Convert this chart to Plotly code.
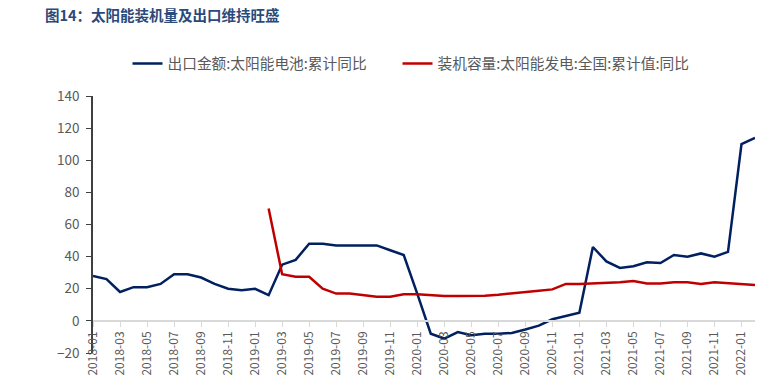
import plotly.graph_objects as go

months = [f"{y}-{m:02d}" for y in range(2018, 2023) for m in range(1, 13)][:50]

export_yoy = [28, 26, 18, 21, 21, 23, 29, 29, 27, 23, 20, 19,
              20, 16, 35, 38, 48, 48, 47, 47, 47, 47, 44, 41,
              17, -8, -11, -7, -9, -8, -8, -7.5, -5.4, -3, 1, 3,
              5, 46, 37, 33, 34, 36.5, 36, 41, 40, 42, 40, 43,
              110, 114]

install_yoy = [None] * 13 + [70, 29, 27.5, 27.5, 20, 17, 17, 16, 15, 15, 16.5,
               16.5, 16, 15.5, 15.5, 15.5, 15.7, 16.3, 17, 17.8, 18.8, 19.6, 23,
               23, 23.3, 24, 24, 24.8, 23.3, 23.3, 24, 24, 23, 24, 23.3,
               22.8, 22.3]

name_export = "出口金额:太阳能电池:累计同比"
name_install = "装机容量:太阳能发电:全国:累计值:同比"
title_text = "图14：太阳能装机量及出口维持旺盛"

FONT = "Noto Sans CJK SC"
GREY = "#595959"

W, H = 779, 392
L, R_EDGE, T, B_EDGE = 93, 755, 96, 353.5
plot_w = R_EDGE - L
plot_h = B_EDGE - T

fig = go.Figure()
fig.add_trace(go.Scatter(x=months, y=export_yoy, mode="lines", name=name_export,
                         line=dict(color="#002060", width=2.5), legend="legend"))
fig.add_trace(go.Scatter(x=months, y=install_yoy, mode="lines", name=name_install,
                         line=dict(color="#C00000", width=2.5), legend="legend2"))

leg_common = dict(orientation="h", xanchor="left", yanchor="middle",
                  y=(B_EDGE - 64) / plot_h,
                  font=dict(family=FONT, size=14.7, color=GREY),
                  bgcolor="rgba(0,0,0,0)")

fig.update_layout(
    width=W, height=H,
    margin=dict(l=L, r=W - R_EDGE, t=T, b=H - B_EDGE),
    paper_bgcolor="white", plot_bgcolor="white",
    font=dict(family=FONT, color=GREY, size=13),
    title=dict(text=f"<b>{title_text}</b>", x=45 / W, xanchor="left",
               y=1 - 15.5 / H, yanchor="middle", xref="container", yref="container",
               font=dict(family=FONT, size=14.5, color="#2B4A7C")),
    showlegend=True,
    legend=dict(x=(127.5 - L) / plot_w, **leg_common),
    legend2=dict(x=(397.5 - L) / plot_w, **leg_common),
    xaxis=dict(type="category", categoryorder="array", categoryarray=months,
               range=[0, len(months) - 1], anchor="free", position=0.125,
               showline=True, linecolor="#D9D9D9", linewidth=1.5,
               ticks="outside", tickcolor="#D9D9D9", ticklen=5,
               tickmode="array", tickvals=months[::2], ticktext=months[::2],
               tickangle=-90, tickfont=dict(size=12, color=GREY, family=FONT),
               showgrid=False, zeroline=False, automargin=False),
    yaxis=dict(range=[-20, 140], dtick=20, tick0=0, showline=True,
               linecolor="#404040", linewidth=1.5, ticks="outside",
               tickcolor="#404040", ticklen=5, showgrid=False, zeroline=False,
               ticklabelstandoff=4,
               tickfont=dict(size=13.5, color=GREY, family=FONT), automargin=False),
)

fig.write_html("out.html",
               config={"displayModeBar": False},
               post_script="document.body.style.margin='0';document.body.style.padding='0';")
